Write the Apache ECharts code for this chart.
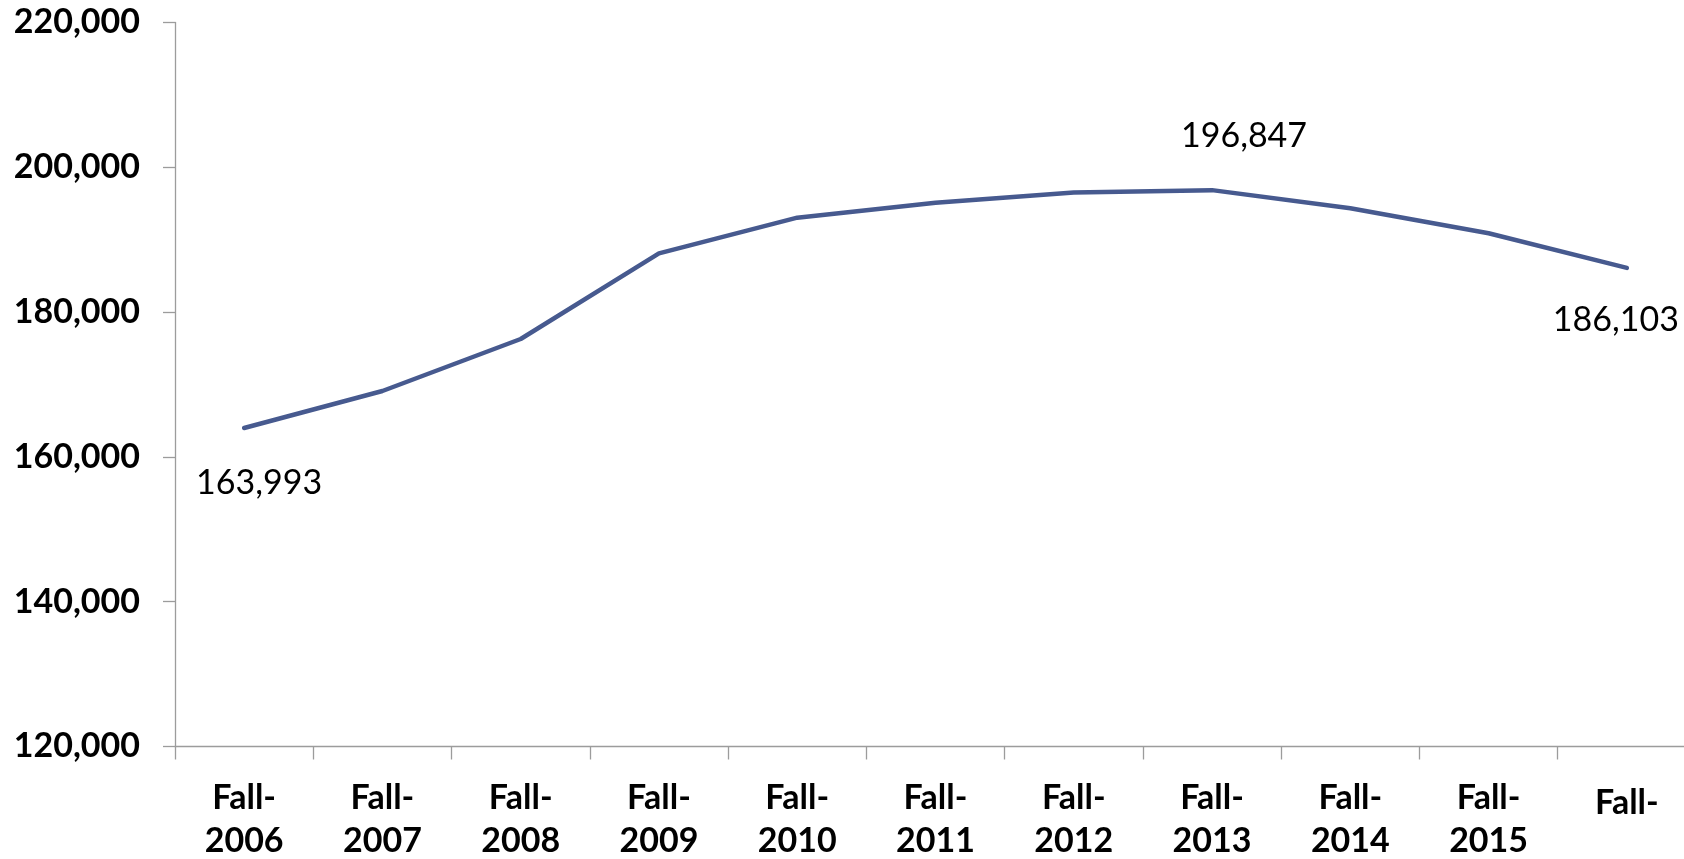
<!DOCTYPE html>
<html>
<head>
<meta charset="utf-8">
<script src="https://cdn.jsdelivr.net/npm/echarts@6/dist/echarts.min.js"></script>
<style>
html,body{margin:0;padding:0;background:#ffffff;}
#chart{width:1684px;height:859px;}
</style>
</head>
<body>
<div id="chart"></div>
<script>
// ---- data ----
const categories = ['Fall-2006','Fall-2007','Fall-2008','Fall-2009','Fall-2010','Fall-2011','Fall-2012','Fall-2013','Fall-2014','Fall-2015','Fall-2016'];
const tickLabels = ['Fall-\n2006','Fall-\n2007','Fall-\n2008','Fall-\n2009','Fall-\n2010','Fall-\n2011','Fall-\n2012','Fall-\n2013','Fall-\n2014','Fall-\n2015','Fall-'];
const enrollment = [163993, 169100, 176285, 188120, 193040, 195110, 196520, 196847, 194340, 190890, 186103];
const yMin = 120000, yMax = 220000, yInterval = 20000;
const labeledPoints = [0, 7, 10];

// ---- styling ----
const FONT = 'Lato';
const labelOffsets = {0: [15, 55], 7: [32, -54], 10: [-11, 52]};
const fmt = v => Number(v).toLocaleString('en-US');

const seriesData = enrollment.map((v, i) => {
  const item = {value: v};
  if (labeledPoints.includes(i)) {
    item.label = {
      show: true,
      position: 'inside',
      offset: labelOffsets[i],
      formatter: p => fmt(p.value),
      color: '#000',
      fontFamily: FONT,
      fontSize: 34,
      fontWeight: 'normal'
    };
  }
  return item;
});

const chart = echarts.init(document.getElementById('chart'), null, {renderer: 'canvas'});
chart.setOption({
  backgroundColor: '#ffffff',
  animation: false,
  grid: {left: 175, width: 1521, top: 22.5, height: 724, containLabel: false, outerBoundsMode: 'none'},
  xAxis: {
    type: 'category',
    data: categories,
    boundaryGap: true,
    axisLine: {show: true, lineStyle: {color: '#9c9c9c', width: 1.3}},
    axisTick: {show: true, length: 13, lineStyle: {color: '#9c9c9c', width: 1.3}},
    splitLine: {show: false},
    axisLabel: {
      interval: 0,
      margin: 30,
      color: '#000',
      fontFamily: FONT,
      fontSize: 34,
      fontWeight: 'bold',
      lineHeight: 43,
      formatter: (v, i) => i === tickLabels.length - 1 ? '{last|' + tickLabels[i] + '}' : tickLabels[i],
      rich: {
        last: {padding: [10, 0, 0, 0], fontFamily: FONT, fontSize: 34, fontWeight: 'bold', lineHeight: 43, color: '#000'}
      }
    }
  },
  yAxis: {
    type: 'value',
    min: yMin,
    max: yMax,
    interval: yInterval,
    axisLine: {show: true, lineStyle: {color: '#9c9c9c', width: 1.3}},
    axisTick: {show: true, length: 12, lineStyle: {color: '#9c9c9c', width: 1.3}},
    splitLine: {show: false},
    axisLabel: {
      margin: 35,
      color: '#000',
      fontFamily: FONT,
      fontSize: 34,
      fontWeight: 'bold',
      formatter: v => fmt(v)
    }
  },
  series: [{
    type: 'line',
    data: seriesData,
    symbol: 'circle',
    symbolSize: 1,
    showSymbol: true,
    itemStyle: {color: '#475a8f'},
    lineStyle: {color: '#475a8f', width: 4.5, cap: 'round', join: 'round'},
    label: {show: false},
    emphasis: {disabled: true}
  }]
});
</script>
</body>
</html>
